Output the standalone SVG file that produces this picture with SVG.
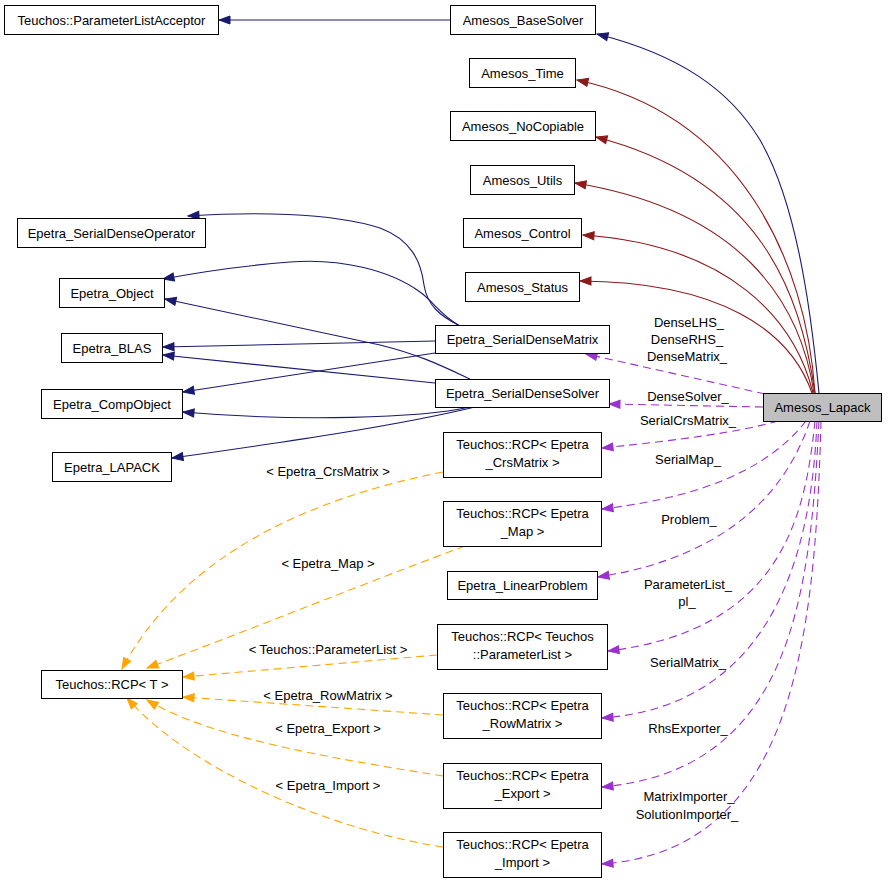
<svg xmlns="http://www.w3.org/2000/svg" width="888" height="883" viewBox="0 0 888 883">
<style>
.n rect{fill:#ffffff;stroke:#000000;stroke-width:1}
.n text,.lbl{font-family:"Liberation Sans",Arial,sans-serif;font-size:13px;fill:#000000;text-anchor:middle}
.cur rect{fill:#bfbfbf}
.e{fill:none;stroke-width:1.1}
.blue{stroke:#191970}
.red{stroke:#8b1a1a}
.pur{stroke:#9a32cd;stroke-dasharray:8,5}
.ora{stroke:#ffa500;stroke-dasharray:8,5}
</style>
<defs>
<marker id="mb" markerWidth="12" markerHeight="9" refX="11" refY="4" orient="auto" markerUnits="userSpaceOnUse" overflow="visible"><path d="M0,0 L11,4 L0,8 z" fill="#191970" stroke="#191970" stroke-width="1"/></marker>
<marker id="mr" markerWidth="12" markerHeight="9" refX="11" refY="4" orient="auto" markerUnits="userSpaceOnUse" overflow="visible"><path d="M0,0 L11,4 L0,8 z" fill="#8b1a1a" stroke="#8b1a1a" stroke-width="1"/></marker>
<marker id="mp" markerWidth="12" markerHeight="9" refX="11" refY="4" orient="auto" markerUnits="userSpaceOnUse" overflow="visible"><path d="M0,0 L11,4 L0,8 z" fill="#9a32cd" stroke="#9a32cd" stroke-width="1"/></marker>
<marker id="mo" markerWidth="12" markerHeight="9" refX="11" refY="4" orient="auto" markerUnits="userSpaceOnUse" overflow="visible"><path d="M0,0 L11,4 L0,8 z" fill="#ffa500" stroke="#ffa500" stroke-width="1"/></marker>
</defs>
<rect x="0" y="0" width="888" height="883" fill="#ffffff"/>
<g id="edges">
<path class="e blue" marker-end="url(#mb)" d="M450,20 L219,20"/>
<path class="e blue" marker-end="url(#mb)" d="M819,393 C810,300 795,200 760,140 C730,90 680,55 597,34"/>
<path class="e red" marker-end="url(#mr)" d="M815,393 C806,260 740,115 577,80"/>
<path class="e red" marker-end="url(#mr)" d="M815,393 C800,290 760,180 596,137"/>
<path class="e red" marker-end="url(#mr)" d="M814,393 C800,300 740,210 575,183"/>
<path class="e red" marker-end="url(#mr)" d="M813,393 C795,320 730,245 583,235"/>
<path class="e red" marker-end="url(#mr)" d="M812,393 C790,330 720,282 580,281"/>
<path class="e blue" marker-end="url(#mb)" d="M460,326 C440,316 427,305 424,285 C421,262 412,240 380,228 C330,212 250,212 188,216"/>
<path class="e blue" marker-end="url(#mb)" d="M460,326 C440,315 432,300 420,292 C390,270 340,258 290,262 C240,266 200,272 163,279"/>
<path class="e blue" marker-end="url(#mb)" d="M470,379 C440,365 420,355 380,345 L165,299"/>
<path class="e blue" marker-end="url(#mb)" d="M435,341 L163,347"/>
<path class="e blue" marker-end="url(#mb)" d="M435,383 L163,355"/>
<path class="e blue" marker-end="url(#mb)" d="M435,353 L183,392"/>
<path class="e blue" marker-end="url(#mb)" d="M470,407 C420,418 300,422 183,412"/>
<path class="e blue" marker-end="url(#mb)" d="M475,407 C400,425 300,440 172,458"/>
<path class="e pur" marker-end="url(#mp)" d="M765,394 L586,354"/>
<path class="e pur" marker-end="url(#mp)" d="M763,407 L609,404"/>
<path class="e pur" marker-end="url(#mp)" d="M778,421 C740,432 680,440 602,448"/>
<path class="e pur" marker-end="url(#mp)" d="M806,421 C775,460 720,495 602,509"/>
<path class="e pur" marker-end="url(#mp)" d="M810,421 C790,480 740,555 598,577"/>
<path class="e pur" marker-end="url(#mp)" d="M815,421 C805,520 780,630 608,651"/>
<path class="e pur" marker-end="url(#mp)" d="M817,421 C812,540 780,705 602,718"/>
<path class="e pur" marker-end="url(#mp)" d="M819,421 C810,600 790,770 602,787"/>
<path class="e pur" marker-end="url(#mp)" d="M821,421 C815,650 790,850 602,864"/>
<path class="e ora" marker-end="url(#mo)" d="M443,472 C300,500 180,560 122,669"/>
<path class="e ora" marker-end="url(#mo)" d="M465,546 C360,585 250,630 147,668"/>
<path class="e ora" marker-end="url(#mo)" d="M437,655 L183,677"/>
<path class="e ora" marker-end="url(#mo)" d="M443,715 L183,697"/>
<path class="e ora" marker-end="url(#mo)" d="M443,776 C330,758 210,738 147,700"/>
<path class="e ora" marker-end="url(#mo)" d="M443,847 C330,830 190,770 127,698"/>
<text class="lbl" x="689" y="327">DenseLHS_</text>
<text class="lbl" x="687" y="344">DenseRHS_</text>
<text class="lbl" x="687" y="361">DenseMatrix_</text>
<text class="lbl" x="688" y="400.5">DenseSolver_</text>
<text class="lbl" x="688" y="425">SerialCrsMatrix_</text>
<text class="lbl" x="688" y="463.5">SerialMap_</text>
<text class="lbl" x="689" y="523.5">Problem_</text>
<text class="lbl" x="688" y="588.5">ParameterList_</text>
<text class="lbl" x="687" y="606">pl_</text>
<text class="lbl" x="688" y="667">SerialMatrix_</text>
<text class="lbl" x="688" y="733">RhsExporter_</text>
<text class="lbl" x="689" y="801">MatrixImporter_</text>
<text class="lbl" x="687" y="819">SolutionImporter_</text>
<text class="lbl" x="328" y="475.5">&lt; Epetra_CrsMatrix &gt;</text>
<text class="lbl" x="328" y="568">&lt; Epetra_Map &gt;</text>
<text class="lbl" x="328" y="653.5">&lt; Teuchos::ParameterList &gt;</text>
<text class="lbl" x="328" y="699.5">&lt; Epetra_RowMatrix &gt;</text>
<text class="lbl" x="328" y="733">&lt; Epetra_Export &gt;</text>
<text class="lbl" x="328" y="789.5">&lt; Epetra_Import &gt;</text>
</g>
<g id="n_acceptor" class="n"><rect x="4.5" y="5.5" width="214" height="29"/><text x="111.5" y="24.5">Teuchos::ParameterListAcceptor</text></g>
<g id="n_basesolver" class="n"><rect x="450.5" y="5.5" width="145" height="29"/><text x="523" y="24.5">Amesos_BaseSolver</text></g>
<g id="n_time" class="n"><rect x="469.5" y="58.5" width="106" height="29"/><text x="522.5" y="77.5">Amesos_Time</text></g>
<g id="n_nocopiable" class="n"><rect x="450.5" y="111.5" width="145" height="29"/><text x="523" y="130.5">Amesos_NoCopiable</text></g>
<g id="n_utils" class="n"><rect x="470.5" y="165.5" width="104" height="29"/><text x="522.5" y="184.5">Amesos_Utils</text></g>
<g id="n_control" class="n"><rect x="463.5" y="218.5" width="118" height="29"/><text x="522.5" y="237.5">Amesos_Control</text></g>
<g id="n_status" class="n"><rect x="465.5" y="272.5" width="114" height="29"/><text x="522.5" y="291.5">Amesos_Status</text></g>
<g id="n_sdo" class="n"><rect x="17.5" y="218.5" width="188" height="29"/><text x="111.5" y="237.5">Epetra_SerialDenseOperator</text></g>
<g id="n_object" class="n"><rect x="59.5" y="278.5" width="105" height="29"/><text x="112" y="297.5">Epetra_Object</text></g>
<g id="n_blas" class="n"><rect x="61.5" y="333.5" width="101" height="29"/><text x="112" y="352.5">Epetra_BLAS</text></g>
<g id="n_compobject" class="n"><rect x="41.5" y="389.5" width="141" height="29"/><text x="112" y="408.5">Epetra_CompObject</text></g>
<g id="n_lapack" class="n"><rect x="52.5" y="452.5" width="119" height="29"/><text x="112" y="471.5">Epetra_LAPACK</text></g>
<g id="n_sdm" class="n"><rect x="435.5" y="325.5" width="174" height="28"/><text x="522.5" y="344">Epetra_SerialDenseMatrix</text></g>
<g id="n_sds" class="n"><rect x="435.5" y="379.5" width="174" height="28"/><text x="522.5" y="398">Epetra_SerialDenseSolver</text></g>
<g id="n_amesos_lapack" class="n cur"><rect x="763.5" y="393.5" width="118" height="28"/><text x="822.5" y="412">Amesos_Lapack</text></g>
<g id="n_rcp_crs" class="n"><rect x="443.5" y="432.5" width="158" height="45"/><text x="522.5" y="449">Teuchos::RCP&lt; Epetra</text><text x="522.5" y="467">_CrsMatrix &gt;</text></g>
<g id="n_rcp_map" class="n"><rect x="443.5" y="501.5" width="158" height="45"/><text x="522.5" y="518">Teuchos::RCP&lt; Epetra</text><text x="522.5" y="536">_Map &gt;</text></g>
<g id="n_linearproblem" class="n"><rect x="447.5" y="571.5" width="150" height="28"/><text x="522.5" y="590">Epetra_LinearProblem</text></g>
<g id="n_rcp_pl" class="n"><rect x="437.5" y="624.5" width="170" height="45"/><text x="522.5" y="641">Teuchos::RCP&lt; Teuchos</text><text x="522.5" y="659">::ParameterList &gt;</text></g>
<g id="n_rcp_row" class="n"><rect x="443.5" y="693.5" width="158" height="45"/><text x="522.5" y="710">Teuchos::RCP&lt; Epetra</text><text x="522.5" y="728">_RowMatrix &gt;</text></g>
<g id="n_rcp_export" class="n"><rect x="443.5" y="763.5" width="158" height="45"/><text x="522.5" y="780">Teuchos::RCP&lt; Epetra</text><text x="522.5" y="798">_Export &gt;</text></g>
<g id="n_rcp_import" class="n"><rect x="443.5" y="832.5" width="158" height="45"/><text x="522.5" y="849">Teuchos::RCP&lt; Epetra</text><text x="522.5" y="867">_Import &gt;</text></g>
<g id="n_rcp_t" class="n"><rect x="41.5" y="670.5" width="141" height="28"/><text x="112" y="689">Teuchos::RCP&lt; T &gt;</text></g>
</svg>
